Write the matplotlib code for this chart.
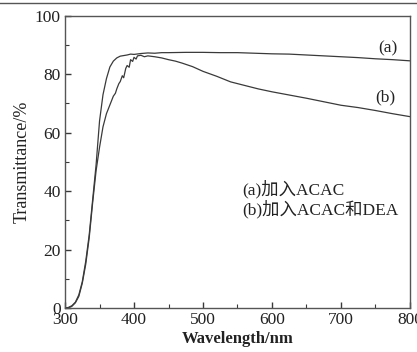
import matplotlib
matplotlib.use('Agg')
import matplotlib.pyplot as plt
from matplotlib.lines import Line2D
from matplotlib.ticker import MultipleLocator

# curve (a): ACAC only
wl_a = [300, 305, 310, 315, 320, 325, 330, 335, 340, 345, 350, 355, 360, 365,
        370, 375, 380, 385, 390, 395, 400, 410, 420, 430, 440, 450, 475, 500,
        525, 550, 575, 600, 625, 650, 675, 700, 725, 750, 775, 800]
t_a = [0.0, 0.2, 0.8, 2.0, 4.5, 9.0, 16.0, 25.0, 37.0, 49.0, 64.0, 73.0, 78.5, 82.5,
       84.5, 85.6, 86.2, 86.4, 86.6, 86.9, 86.8, 87.1, 87.3, 87.2, 87.4, 87.4, 87.5, 87.5,
       87.4, 87.4, 87.2, 87.0, 86.9, 86.6, 86.3, 86.0, 85.7, 85.3, 85.0, 84.6]

# curve (b): ACAC + DEA
wl_b = [300, 305, 310, 315, 320, 325, 330, 335, 340, 345, 350, 355, 360, 365,
        370, 373, 375, 378, 380, 383, 385, 388, 390, 393, 395, 398, 400, 403, 405,
        410, 415, 420, 430, 440, 450, 460, 470, 485, 500, 520, 540, 560, 580, 600,
        625, 650, 675, 700, 725, 750, 775, 800]
t_b = [0.0, 0.1, 0.6, 1.8, 4.0, 8.5, 15.0, 24.0, 36.0, 47.0, 55.0, 62.0, 66.5, 69.5,
       72.5, 73.5, 75.0, 76.8, 77.5, 79.5, 78.8, 82.0, 83.0, 82.4, 85.0, 84.4, 85.8, 85.2, 86.3,
       86.5, 86.0, 86.3, 86.0, 85.6, 85.0, 84.5, 83.8, 82.6, 81.0, 79.3, 77.4, 76.2, 75.0, 74.0,
       72.9, 71.8, 70.6, 69.4, 68.6, 67.6, 66.5, 65.5]

xticks = [300, 400, 500, 600, 700, 800]
yticks = [0, 20, 40, 60, 80, 100]

serif = ['Liberation Serif', 'Noto Sans CJK SC']
plt.rcParams['font.family'] = serif
ink = '#3a3a3a'
txt = '#222222'

fig = plt.figure(figsize=(4.17, 3.52), dpi=100, facecolor='w')
ax = fig.add_axes([0.156, 0.125, 0.827, 0.83])

ax.plot(wl_a, t_a, color=ink, lw=0.9)
ax.plot(wl_b, t_b, color=ink, lw=0.9)

ax.set_xlim(300, 800)
ax.set_ylim(0, 100)
ax.set_xticks(xticks)
ax.set_yticks(yticks)
ax.xaxis.set_minor_locator(MultipleLocator(50))
ax.yaxis.set_minor_locator(MultipleLocator(10))
ax.tick_params(which='both', direction='in', top=False, right=False, colors=ink,
               labelcolor=txt, labelsize=12.5)
ax.tick_params(which='major', length=4, width=1, pad=3)
ax.tick_params(which='minor', length=3, width=0.8)
for s in ax.spines.values():
    s.set_color('#555555')
    s.set_linewidth(1.0)

ax.set_xlabel('Wavelength/nm', fontsize=12, fontweight='bold', color=txt, labelpad=2)
ax.set_ylabel('Transmittance/%', fontsize=13, color=txt, labelpad=3)

ax.text(768, 88.7, '(a)', fontsize=12.5, ha='center', va='center', color=txt)
ax.text(764, 72, '(b)', fontsize=12.5, ha='center', va='center', color=txt)
ax.text(557, 40.6, '(a)加入ACAC', fontsize=12.5, ha='left', va='center', color=txt, family=serif)
ax.text(557, 34.0, '(b)加入ACAC和DEA', fontsize=12.5, ha='left', va='center', color=txt, family=serif)

# scanned frame line along the top of the page
fig.add_artist(Line2D([0, 1], [0.9915, 0.9915], transform=fig.transFigure, color='#555555', lw=1.0))

fig.savefig('out.png', dpi=100)
plt.close(fig)
